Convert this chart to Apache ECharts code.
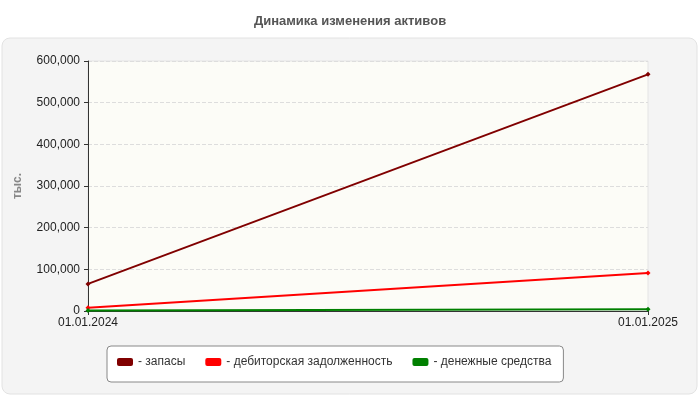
<!DOCTYPE html>
<html><head><meta charset="utf-8">
<script src="https://cdn.jsdelivr.net/npm/echarts@6/dist/echarts.min.js"></script>
<style>body{margin:0;background:#fff}#c{width:700px;height:400px}</style>
</head><body><div id="c"></div>
<script>
// данные графика
const dates = ['01.01.2024', '01.01.2025'];
const zapasy = [65000, 568000];
const debitor = [8000, 91000];
const dengi = [1000, 4000];

const chart = echarts.init(document.getElementById('c'));
function line(name, data, color) {
  return {
    name: name, type: 'line', data: data,
    symbol: 'diamond', symbolSize: 5,
    lineStyle: {color: color, width: 2}, itemStyle: {color: color}
  };
}
chart.setOption({
  animation: false,
  textStyle: {fontFamily: 'Liberation Sans, Arial'},
  graphic: [{
    type: 'rect', z: -10,
    shape: {x: 2, y: 38, width: 695, height: 356, r: 8},
    style: {fill: '#f4f4f4', stroke: '#e2e2e2', lineWidth: 1}
  }],
  title: {
    text: 'Динамика изменения активов', left: 'center', top: 10,
    textStyle: {fontSize: 13, fontWeight: 'bold', color: '#555'}
  },
  grid: {left: 88, right: 52, top: 61, bottom: 89, show: true,
    backgroundColor: '#fcfcf7', borderColor: '#e4e4e4'},
  legend: {
    bottom: 18, left: 107, width: 460, padding: [10, 12, 14, 10], itemGap: 20,
    borderColor: '#888', borderWidth: 1, borderRadius: 4,
    backgroundColor: '#fff', itemWidth: 16, itemHeight: 8, icon: 'roundRect',
    formatter: n => '- ' + n,
    textStyle: {fontSize: 12, color: '#333'},
    data: ['запасы', 'дебиторская задолженность', 'денежные средства']
  },
  xAxis: {
    type: 'category', data: dates, boundaryGap: false,
    axisLine: {lineStyle: {color: '#333'}},
    axisTick: {show: true, alignWithLabel: true, length: 4},
    axisLabel: {color: '#222', fontSize: 12, showMaxLabel: true, margin: 6}
  },
  yAxis: {
    type: 'value', min: 0, max: 600000, interval: 100000,
    name: 'тыс.', nameLocation: 'middle', nameGap: 64, nameRotate: 90,
    nameTextStyle: {color: '#888', fontWeight: 'bold', fontSize: 12},
    axisLine: {show: true, lineStyle: {color: '#333'}},
    axisTick: {show: true, length: 4},
    axisLabel: {color: '#222', fontSize: 12},
    splitLine: {lineStyle: {type: 'dashed', color: '#ddd'}}
  },
  series: [
    line('запасы', zapasy, '#800000'),
    line('дебиторская задолженность', debitor, '#ff0000'),
    line('денежные средства', dengi, '#008000')
  ]
});
</script></body></html>
